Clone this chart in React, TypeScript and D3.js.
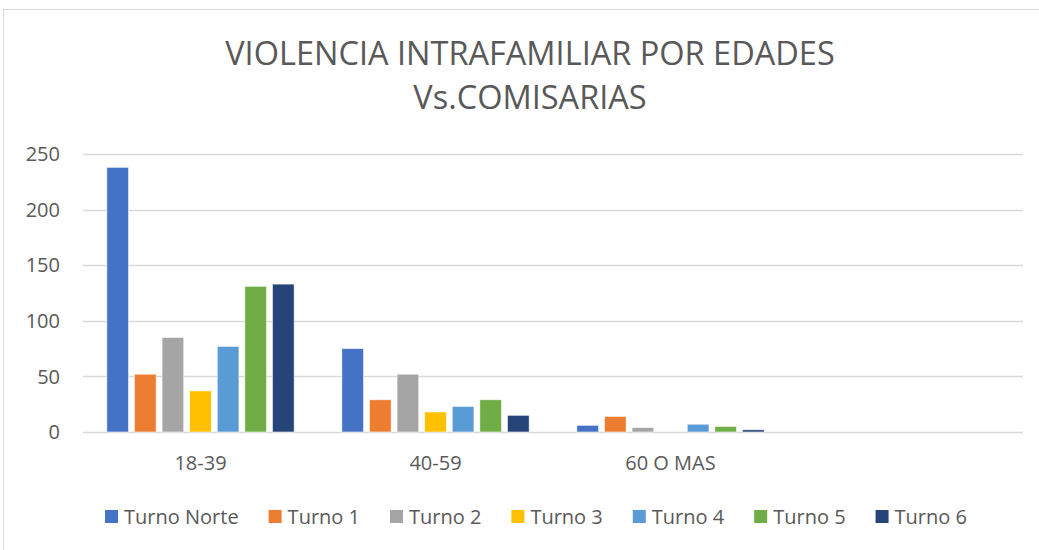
import React, { useEffect, useRef } from "react";
import * as d3 from "d3";

const categories = ["18-39", "40-59", "60 O MAS", ""];
const seriesNames = ["Turno Norte", "Turno 1", "Turno 2", "Turno 3", "Turno 4", "Turno 5", "Turno 6"];
const seriesColors = ["#4472C4", "#ED7D31", "#A5A5A5", "#FFC000", "#5B9BD5", "#70AD47", "#264478"];
// values per series, indexed by category (last category is empty)
const turnoNorte = [238, 75, 6, null];
const turno1 = [52, 29, 14, null];
const turno2 = [85, 52, 4, null];
const turno3 = [37, 18, 0, null];
const turno4 = [77, 23, 7, null];
const turno5 = [131, 29, 5, null];
const turno6 = [133, 15, 2, null];
const seriesValues = [turnoNorte, turno1, turno2, turno3, turno4, turno5, turno6];
const yTicks = [0, 50, 100, 150, 200, 250];
const titleLines = ["VIOLENCIA INTRAFAMILIAR POR EDADES", "Vs.COMISARIAS"];

const W = 1039;
const H = 550;
const FONT = "'Open Sans', 'Liberation Sans', sans-serif";
const TEXT = "#595959";

export default function App() {
  const ref = useRef<SVGSVGElement | null>(null);

  useEffect(() => {
    const svg = d3.select(ref.current);
    svg.selectAll("*").remove();

    const plot = { left: 83, right: 1023, top: 154, bottom: 432 };

    // chart frame
    svg.append("rect")
      .attr("x", 3.5).attr("y", 9.5)
      .attr("width", 1100).attr("height", 600)
      .attr("fill", "#fff").attr("stroke", "#d9d9d9").attr("stroke-width", 1);

    // title
    const title = svg.append("text")
      .attr("text-anchor", "middle")
      .attr("font-family", FONT)
      .attr("font-size", 32.5)
      .attr("fill", TEXT);
    titleLines.forEach((t, i) => {
      title.append("tspan").attr("x", 530).attr("y", 65 + i * 44).text(t);
    });

    const x0 = d3.scaleBand<string>().domain(categories).range([plot.left, plot.right]).padding(0);
    const bw = x0.bandwidth();
    const x1 = d3.scaleBand<string>().domain(seriesNames)
      .range([bw * 0.1015, bw * 0.8985]).paddingInner(0.214).paddingOuter(0);
    const y = d3.scaleLinear().domain([0, 250]).range([plot.bottom, plot.top]);

    // gridlines
    svg.append("g").selectAll("line").data(yTicks).join("line")
      .attr("x1", plot.left).attr("x2", plot.right)
      .attr("y1", (d) => Math.round(y(d)) + 0.5).attr("y2", (d) => Math.round(y(d)) + 0.5)
      .attr("stroke", "#d9d9d9").attr("stroke-width", 1.3);

    // y labels
    svg.append("g").selectAll("text").data(yTicks).join("text")
      .attr("x", 60).attr("y", (d) => y(d))
      .attr("dy", "0.36em")
      .attr("text-anchor", "end")
      .attr("font-family", FONT).attr("font-size", 20).attr("fill", TEXT)
      .text((d) => String(d));

    // bars
    seriesNames.forEach((name, si) => {
      const vals = seriesValues[si];
      svg.append("g").selectAll("rect")
        .data(categories.map((c, ci) => ({ c, v: vals[ci] })).filter((d) => d.v !== null && (d.v as number) > 0))
        .join("rect")
        .attr("x", (d) => (x0(d.c) as number) + (x1(name) as number))
        .attr("width", x1.bandwidth())
        .attr("y", (d) => y(d.v as number))
        .attr("height", (d) => y(0) - y(d.v as number))
        .attr("fill", seriesColors[si])
        .attr("stroke", "#ffffff").attr("stroke-width", 0.8).attr("stroke-opacity", 0.7);
    });

    // category labels
    svg.append("g").selectAll("text").data(categories).join("text")
      .attr("x", (d) => (x0(d) as number) + bw / 2)
      .attr("y", 470)
      .attr("text-anchor", "middle")
      .attr("font-family", FONT).attr("font-size", 20).attr("fill", TEXT)
      .text((d) => d);

    // legend
    const lg = svg.append("g");
    const items = seriesNames.map((name, i) => {
      const g = lg.append("g");
      g.append("rect").attr("x", 0).attr("y", 510).attr("width", 13).attr("height", 13)
        .attr("fill", seriesColors[i]);
      const t = g.append("text").attr("x", 19).attr("y", 524)
        .attr("font-family", FONT).attr("font-size", 20).attr("fill", TEXT).text(name);
      const w = (t.node() as SVGTextElement).getComputedTextLength();
      return { g, w: 19 + w };
    });
    const gap = 30;
    const total = d3.sum(items, (d) => d.w) + gap * (items.length - 1);
    let cx = 536 - total / 2;
    items.forEach((it) => {
      it.g.attr("transform", `translate(${cx},0)`);
      cx += it.w + gap;
    });
  }, []);

  return (
    <div style={{ position: "absolute", left: 0, top: 0 }}>
      <svg ref={ref} width={W} height={H} style={{ display: "block", background: "#fff" }} />
    </div>
  );
}
